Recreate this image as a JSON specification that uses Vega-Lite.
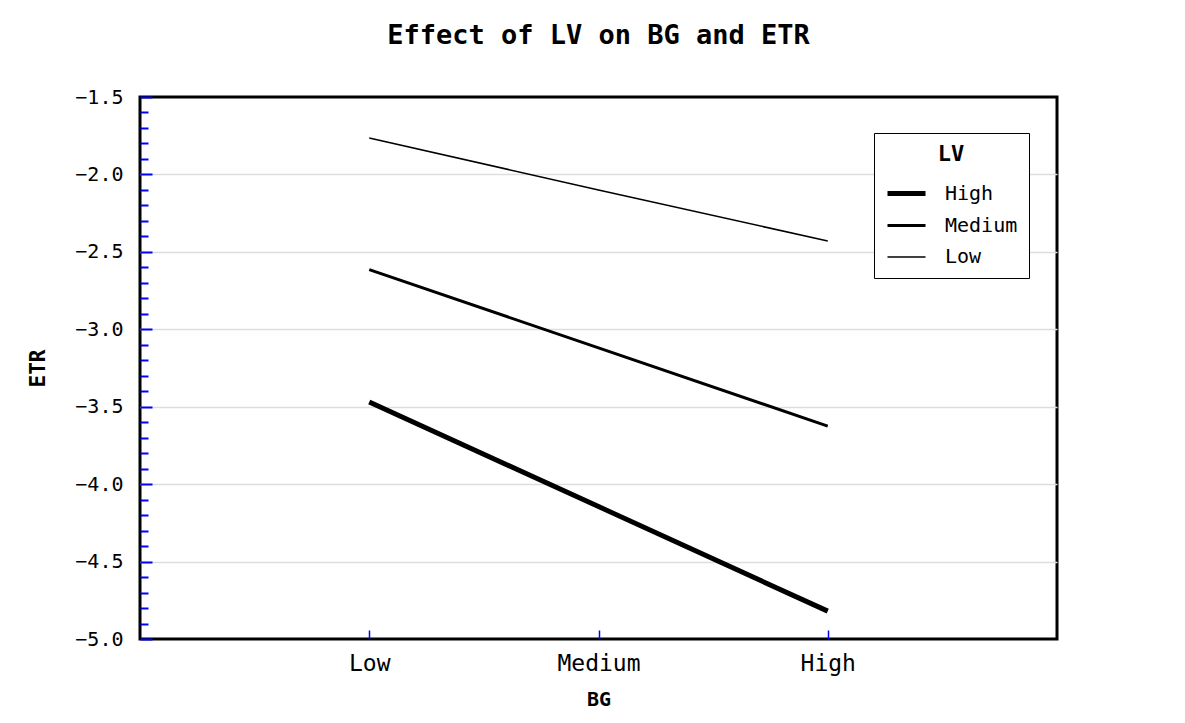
{
  "$schema": "https://vega.github.io/schema/vega-lite/v6.json",
  "width": 917,
  "height": 542,
  "autosize": {"type": "none"},
  "padding": {"left": 140, "top": 97, "right": 128, "bottom": 84},
  "background": "white",
  "title": {
    "text": "Effect of LV on BG and ETR",
    "font": "DejaVu Sans Mono",
    "fontSize": 27,
    "fontWeight": "bold",
    "color": "black",
    "anchor": "middle",
    "offset": 37
  },
  "data": {
    "values": [
      {"LV": "High", "BG": "Low", "ETR": -3.47},
      {"LV": "High", "BG": "Medium", "ETR": -4.145},
      {"LV": "High", "BG": "High", "ETR": -4.82},
      {"LV": "Medium", "BG": "Low", "ETR": -2.615},
      {"LV": "Medium", "BG": "Medium", "ETR": -3.12},
      {"LV": "Medium", "BG": "High", "ETR": -3.625},
      {"LV": "Low", "BG": "Low", "ETR": -1.765},
      {"LV": "Low", "BG": "Medium", "ETR": -2.1},
      {"LV": "Low", "BG": "High", "ETR": -2.43}
    ]
  },
  "mark": {"type": "line", "color": "black", "strokeCap": "butt"},
  "encoding": {
    "x": {
      "field": "BG",
      "type": "ordinal",
      "sort": ["Low", "Medium", "High"],
      "scale": {"type": "point", "padding": 1},
      "axis": {
        "title": "BG",
        "titleFont": "DejaVu Sans Mono",
        "titleFontSize": 20,
        "titleFontWeight": "bold",
        "titleColor": "black",
        "titlePadding": 14,
        "labelFont": "DejaVu Sans Mono",
        "labelFontSize": 23,
        "labelColor": "black",
        "labelAngle": 0,
        "labelPadding": 22,
        "domain": false,
        "grid": false,
        "tickColor": "blue",
        "tickSize": -9,
        "tickWidth": 1.5
      }
    },
    "y": {
      "field": "ETR",
      "type": "quantitative",
      "scale": {"domain": [-5, -1.5], "nice": false, "zero": false},
      "axis": {
        "title": "ETR",
        "titleFont": "DejaVu Sans Mono",
        "titleFontSize": 21,
        "titleFontWeight": "bold",
        "titleColor": "black",
        "titlePadding": 26,
        "values": [-5, -4.9, -4.8, -4.7, -4.6, -4.5, -4.4, -4.3, -4.2, -4.1, -4, -3.9, -3.8, -3.7, -3.6, -3.5, -3.4, -3.3, -3.2, -3.1, -3, -2.9, -2.8, -2.7, -2.6, -2.5, -2.4, -2.3, -2.2, -2.1, -2, -1.9, -1.8, -1.7, -1.6, -1.5],
        "labelExpr": "abs(datum.value*2 - round(datum.value*2)) < 0.001 ? format(datum.value, '.1f') : ''",
        "labelOverlap": false,
        "labelFont": "DejaVu Sans Mono",
        "labelFontSize": 20,
        "labelColor": "black",
        "labelPadding": 29,
        "domain": false,
        "grid": true,
        "gridColor": "#dddddd",
        "gridWidth": 1.5,
        "gridOpacity": {"condition": {"test": "abs(datum.value*2 - round(datum.value*2)) < 0.001 && datum.value > -4.95 && datum.value < -1.55", "value": 1}, "value": 0},
        "tickColor": "blue",
        "tickWidth": 2,
        "tickSize": {"condition": {"test": "abs(datum.value*2 - round(datum.value*2)) < 0.001", "value": -12}, "value": -8}
      }
    },
    "strokeWidth": {
      "field": "LV",
      "type": "nominal",
      "scale": {"type": "ordinal", "domain": ["High", "Medium", "Low"], "range": [5, 3, 1.5]},
      "legend": {
        "title": "LV",
        "orient": "none",
        "legendX": 734,
        "legendY": 36,
        "titleFont": "DejaVu Sans Mono",
        "titleFontSize": 22,
        "titleFontWeight": "bold",
        "titleColor": "black",
        "titleAnchor": "middle",
        "titlePadding": 6,
        "labelFont": "DejaVu Sans Mono",
        "labelFontSize": 20,
        "labelColor": "black",
        "labelOffset": 17,
        "symbolType": "M-1,0L1,0",
        "symbolStrokeColor": "black",
        "symbolFillColor": "transparent",
        "symbolSize": 1444,
        "rowPadding": 1,
        "padding": 11,
        "strokeColor": "black",
        "fillColor": "white"
      }
    }
  },
  "config": {
    "view": {"stroke": "black", "strokeWidth": 3}
  }
}
